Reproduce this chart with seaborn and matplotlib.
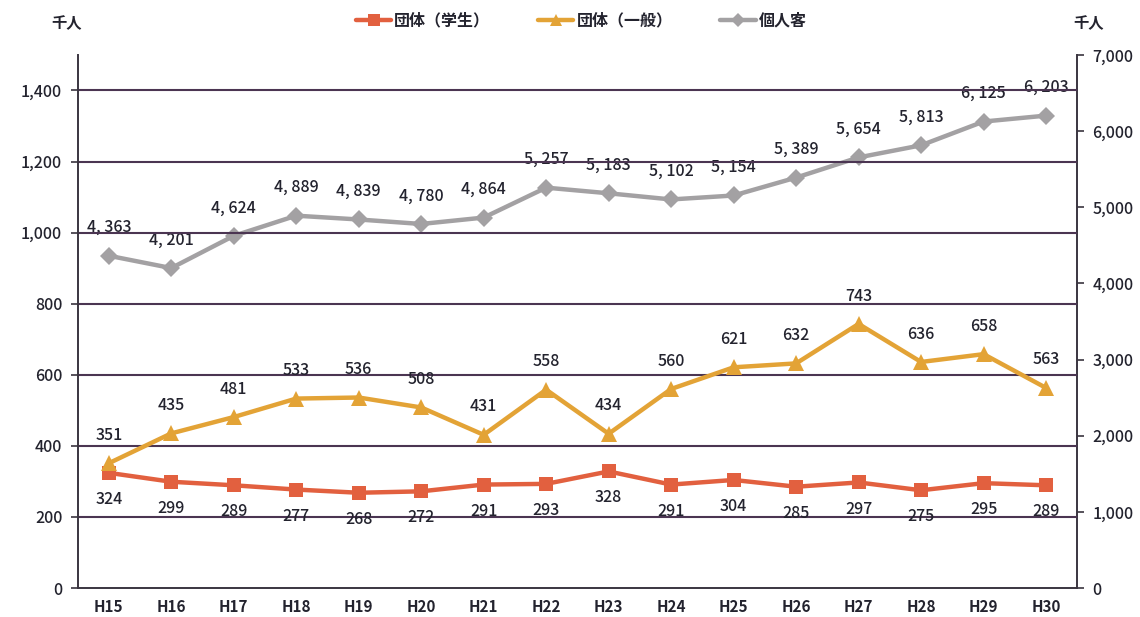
import matplotlib
matplotlib.use("Agg")
import matplotlib.pyplot as plt
from matplotlib.lines import Line2D
import seaborn as sns
import pandas as pd
import numpy as np

years = ["H15", "H16", "H17", "H18", "H19", "H20", "H21", "H22",
         "H23", "H24", "H25", "H26", "H27", "H28", "H29", "H30"]
students = [324, 299, 289, 277, 268, 272, 291, 293, 328, 291, 304, 285, 297, 275, 295, 289]
general = [351, 435, 481, 533, 536, 508, 431, 558, 434, 560, 621, 632, 743, 636, 658, 563]
individual = [4363, 4201, 4624, 4889, 4839, 4780, 4864, 5257, 5183, 5102, 5154, 5389, 5654, 5813, 6125, 6203]
series_names = ["団体（学生）", "団体（一般）", "個人客"]
left_ticks = [0, 200, 400, 600, 800, 1000, 1200, 1400]
right_ticks = [0, 1000, 2000, 3000, 4000, 5000, 6000, 7000]

sns.set_theme(style="white")
plt.rcParams['font.family'] = ['Noto Sans CJK JP', 'DejaVu Sans']

c_stu = "#E2603F"
c_gen = "#E3A336"
c_ind = "#A3A1A3"
c_grid = "#4B3552"
c_axis = "#3a3540"
c_text = "#23232e"

df = pd.DataFrame({"year": years, "students": students, "general": general, "individual": individual})

fig = plt.figure(figsize=(11.4, 6.17), dpi=100)
ax = fig.add_axes([0.068, 0.047, 0.877, 0.864])
ax2 = ax.twinx()

sns.lineplot(data=df, x="year", y="students", ax=ax, color=c_stu, lw=3.2,
             marker="s", markersize=10, markeredgewidth=0, sort=False)
sns.lineplot(data=df, x="year", y="general", ax=ax, color=c_gen, lw=3.2,
             marker="^", markersize=12, markeredgewidth=0, sort=False)
sns.lineplot(data=df, x="year", y="individual", ax=ax2, color=c_ind, lw=3.2,
             marker="D", markersize=9, markeredgewidth=0, sort=False)

ax.set_xlim(-0.5, len(years) - 0.5)
ax.set_ylim(0, 1500)
ax2.set_ylim(0, 7000)
ax.set_yticks(left_ticks)
ax.set_yticklabels([f"{v:,}" for v in left_ticks], fontsize=11.5, color=c_text, fontweight="medium")
ax2.set_yticks(right_ticks)
ax2.set_yticklabels([f"{v:,}" for v in right_ticks], fontsize=11.5, color=c_text, fontweight="medium")
ax.set_xticks(range(len(years)))
ax.set_xticklabels(years, fontsize=11, color=c_text, fontweight="bold")
ax.set_xticks(np.arange(-0.5, len(years), 1.0), minor=True)
ax.tick_params(axis="x", which="major", length=0, pad=8)
ax.tick_params(axis="x", which="minor", length=5, color=c_axis, direction="out", width=1.2)
ax.tick_params(axis="y", length=5, color=c_axis, direction="out", width=1.2, pad=6)
ax2.tick_params(axis="y", length=5, color=c_axis, direction="out", width=1.2, pad=6)
ax.set_xlabel("")
ax.set_ylabel("")
ax2.set_ylabel("")

for a in (ax, ax2):
    a.spines["top"].set_visible(False)
    for s in ("left", "right", "bottom"):
        a.spines[s].set_color(c_axis)
        a.spines[s].set_linewidth(1.4)
ax.spines["right"].set_visible(False)
ax2.spines["left"].set_visible(False)
ax2.spines["bottom"].set_visible(False)

for v in left_ticks[1:]:
    ax.axhline(v, color=c_grid, lw=1.5, zorder=0)
ax.set_zorder(ax2.get_zorder() + 1)
ax.patch.set_visible(False)

lab_kw = dict(ha="center", fontsize=11.5, color=c_text, fontweight="medium")
for i, v in enumerate(students):
    ax.annotate(f"{v}", (i, v), xytext=(0, -13), textcoords="offset points", va="top", **lab_kw)
for i, v in enumerate(general):
    ax.annotate(f"{v}", (i, v), xytext=(0, 14), textcoords="offset points", va="bottom", **lab_kw)
for i, v in enumerate(individual):
    s = f"{v:,}".replace(",", ", ")
    ax2.annotate(s, (i, v), xytext=(0, 14), textcoords="offset points", va="bottom", **lab_kw)

fig.text(0.058, 0.962, "千人", fontsize=11, color=c_text, ha="center", va="center", fontweight="bold")
fig.text(0.955, 0.962, "千人", fontsize=11, color=c_text, ha="center", va="center", fontweight="bold")

handles = [
    Line2D([], [], color=c_stu, lw=3.2, marker="s", markersize=8, markeredgewidth=0),
    Line2D([], [], color=c_gen, lw=3.2, marker="^", markersize=9, markeredgewidth=0),
    Line2D([], [], color=c_ind, lw=3.2, marker="D", markersize=7, markeredgewidth=0),
]
leg = fig.legend(handles, series_names, loc="center", bbox_to_anchor=(0.51, 0.967), ncol=3,
                 frameon=False, fontsize=11.5, handlelength=2.2, handletextpad=0.2, columnspacing=3.0,
                 labelcolor=c_text, prop={"weight": "bold", "size": 11.5})

fig.savefig("out.png", dpi=100)
